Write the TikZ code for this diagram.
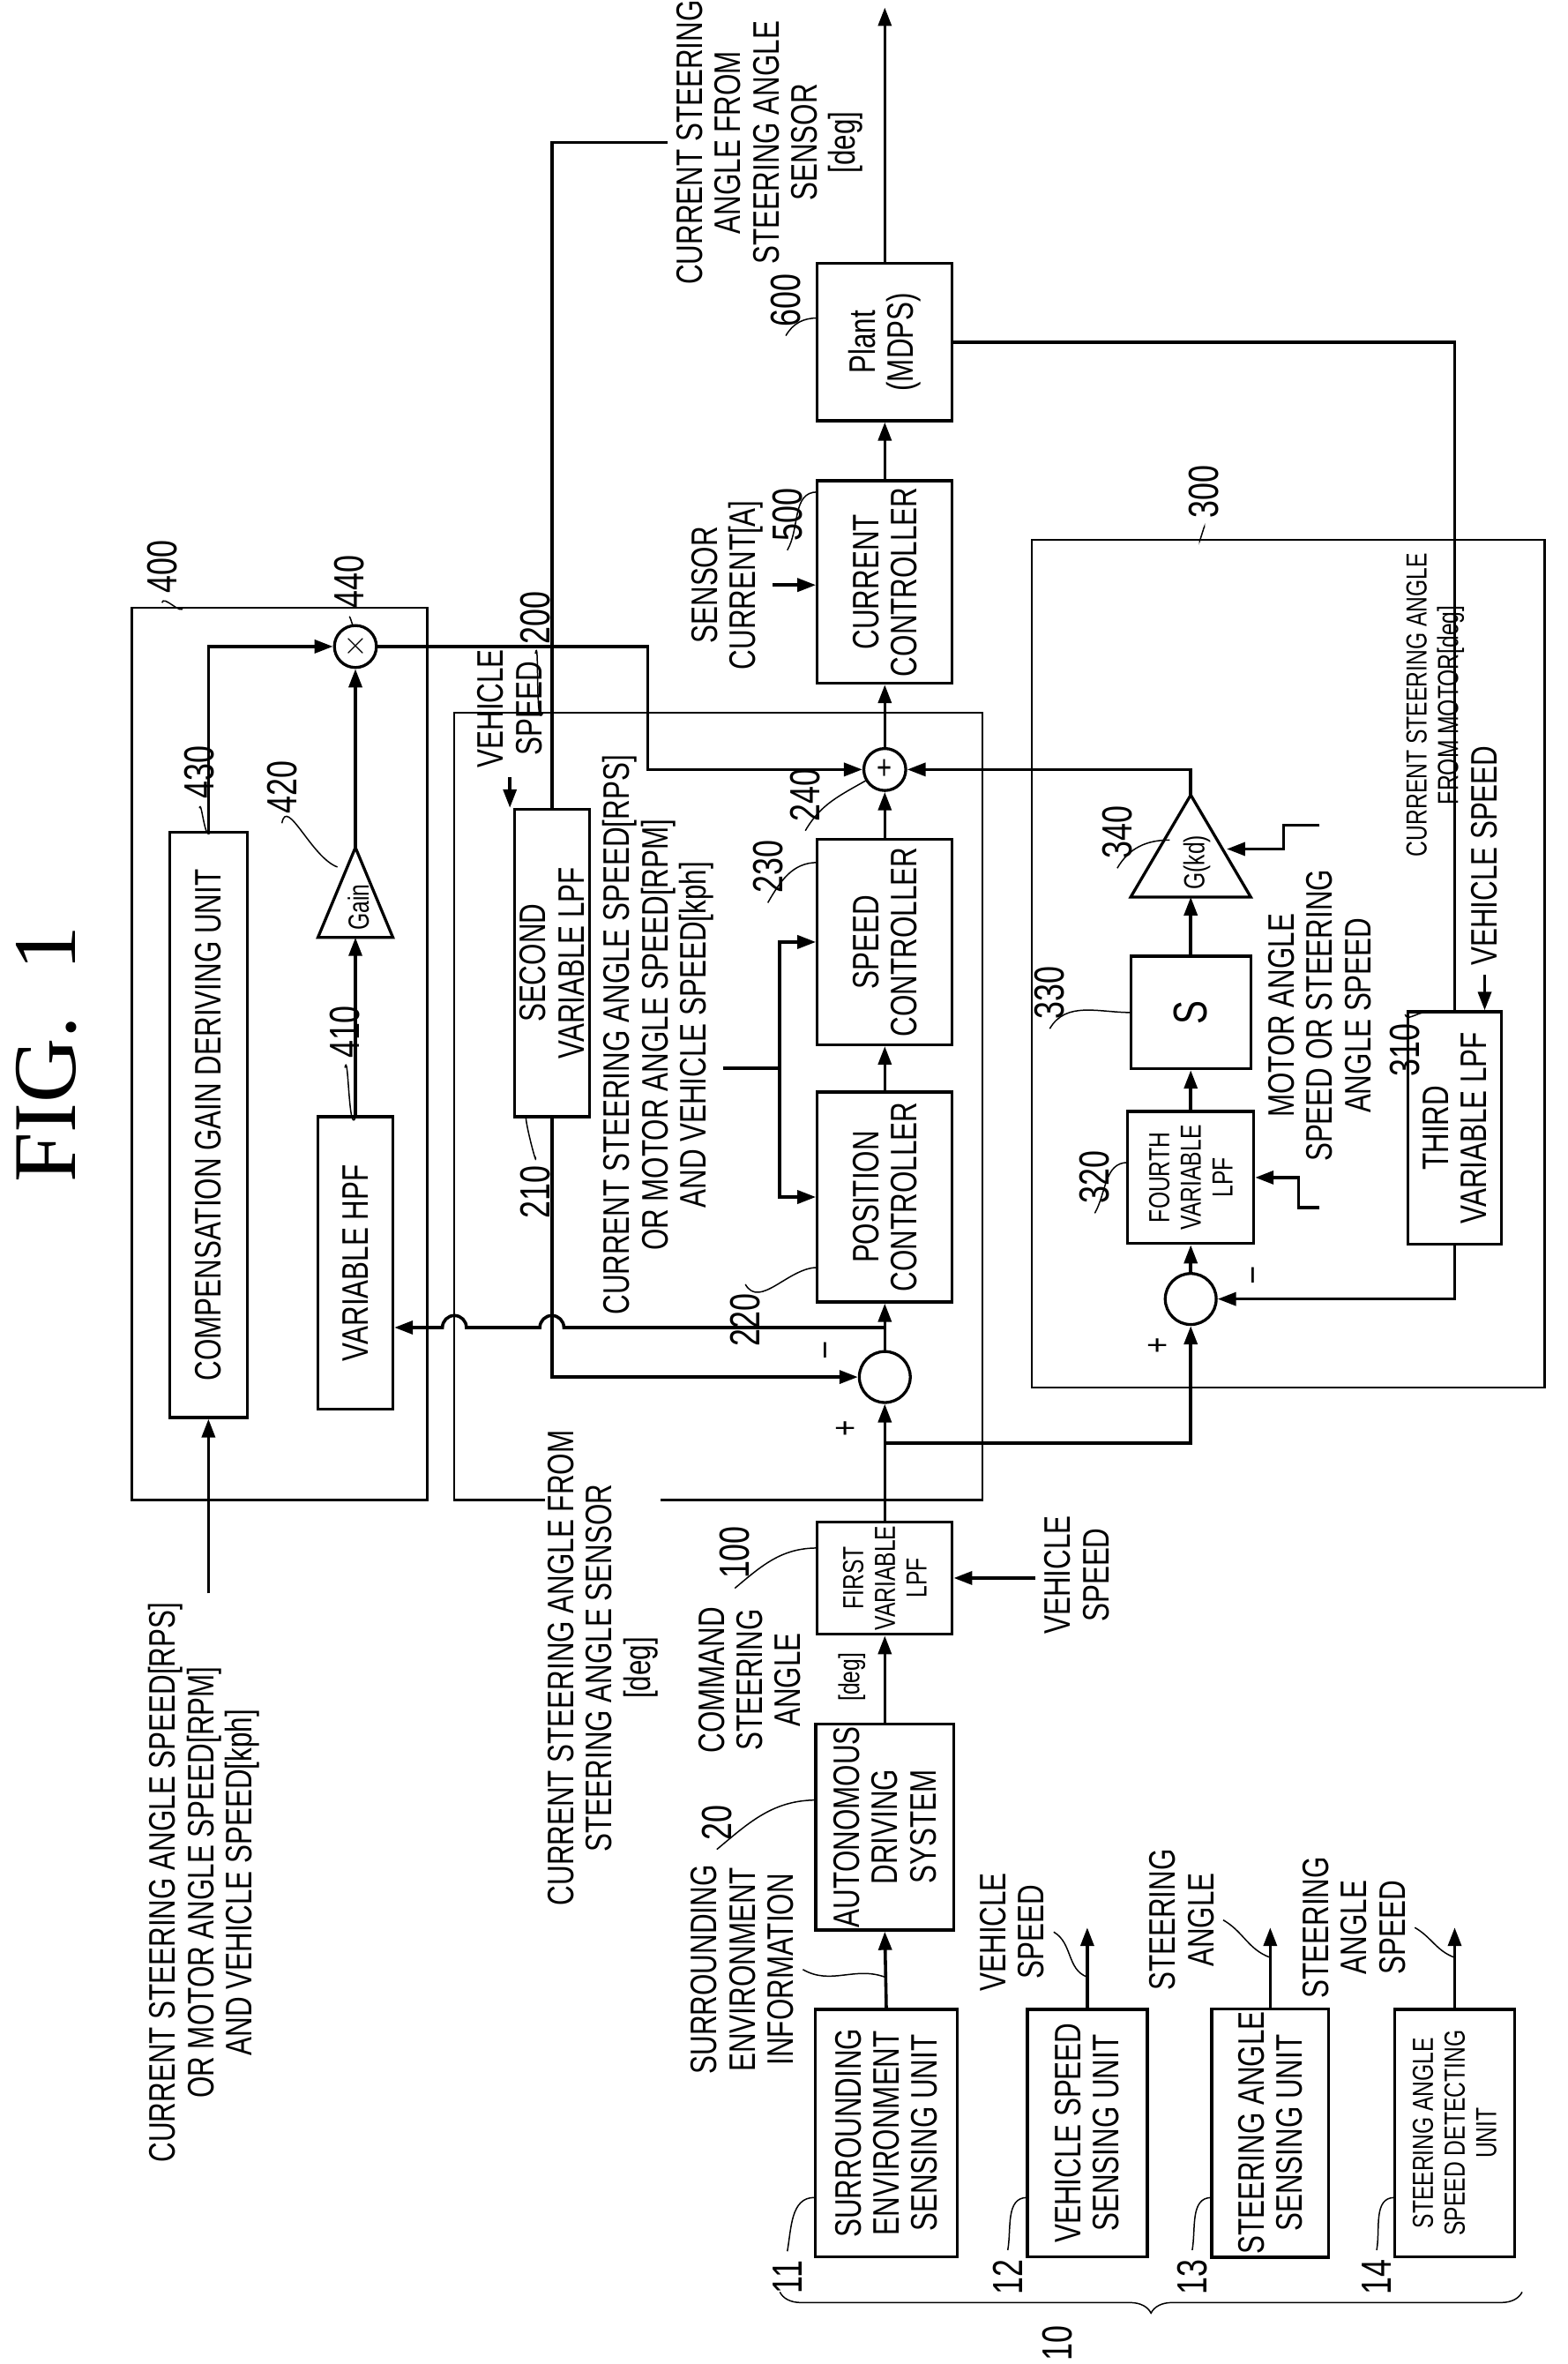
\documentclass[tikz,border=0pt]{standalone}
\usepackage{fontspec}
\setmainfont{Liberation Sans}[FakeStretch=0.75]
\newfontfamily\seriffam{Liberation Serif}
\usetikzlibrary{arrows.meta,decorations.pathreplacing,shapes.geometric}
\tikzset{
 R/.style={rotate=90},
 box/.style={draw,line width=1.1pt,rotate=90,inner sep=1pt},
 sz/.style 2 args={minimum width=#1*0.02cm,minimum height=#2*0.02cm},
 frame/.style={line width=0.8pt},
 ln/.style={line width=1.2pt},
 arr/.style={ln,-{Triangle[length=7pt,width=5pt]}},
 sm/.style={font=\fontsize{11}{12}\selectfont},
 lab/.style={rotate=90,font=\fontsize{16}{17}\selectfont},
 lead/.style={line width=0.5pt},
 circ/.style={draw,circle,line width=1.1pt,inner sep=0pt,minimum size=#1*0.04cm},
}
\begin{document}
\begin{tikzpicture}[x=0.02cm,y=-0.02cm,
 every node/.style={font=\fontsize{14}{14.5}\selectfont, align=center}]
\useasboundingbox (0,0) rectangle (1045,1576);
\node[rotate=90,font=\seriffam\fontsize{34}{34}\selectfont] (title) at (31,703) {FIG.\ \ 1};

% frames
\draw[frame] (88,405) rectangle (285,1000);
\draw[frame] (303,475) rectangle (655,1000);
\draw[frame] (688,360) rectangle (1030,925);

% block 400
\node[box,sz={390}{52}] (b430) at (139,750) {COMPENSATION GAIN DERIVING UNIT};
\node[box,sz={195}{50}] (b410) at (237,842) {VARIABLE HPF};
\coordinate (t420a) at (237,565); \coordinate (t420b) at (237,625);
\draw[line width=1.1pt] (t420a) -- (212,625) -- (262,625) -- cycle;
\node[R,sm] (g420) at (239,605) {Gain};
\node[circ=14,font=\fontsize{12}{12}\selectfont] (c440) at (237,431) {$\times$};

% block 200
\node[box,sz={205}{50}] (b210) at (368,642) {SECOND\\VARIABLE LPF};
\node[R,anchor=west] (vs210) at (340,518) {VEHICLE\\SPEED};
\node[box,sz={140}{90}] (b220) at (590,798) {POSITION\\CONTROLLER};
\node[box,sz={137}{90}] (b230) at (590,628) {SPEED\\CONTROLLER};
\node[circ=14,font=\fontsize{13}{13}\selectfont] (c240) at (590,513) {+};
\node[circ=17] (cm) at (590,918) {};

% 500 / 600
\node[box,sz={135}{90}] (b500) at (590,388) {CURRENT\\CONTROLLER};
\node[box,sz={105}{90}] (b600) at (590,228) {Plant\\(MDPS)};

% block 300
\node[box,sz={155}{62}] (b310) at (970,752) {THIRD\\VARIABLE LPF};
\node[box,sz={88}{84},sm] (b320) at (794,785) {FOURTH\\VARIABLE\\LPF};
\node[box,sz={75}{80},font=\fontsize{18}{18}\selectfont] (b330) at (794,675) {S};
\coordinate (t340a) at (794,530); \coordinate (t340b) at (794,598);
\draw[line width=1.1pt] (t340a) -- (754,598) -- (834,598) -- cycle;
\node[R,sm] (g340) at (798,575) {G(kd)};
\node[circ=17] (c300) at (794,866) {};

% lower blocks
\node[box,sz={75}{90},sm] (b100) at (590,1052) {FIRST\\VARIABLE\\LPF};
\node[box,sz={135}{92}] (b20) at (590,1218) {AUTONOMOUS\\DRIVING\\SYSTEM};
\node[box,sz={165}{95}] (b11) at (591,1422) {SURROUNDING\\ENVIRONMENT\\SENSING UNIT};
\node[box,sz={165}{80}] (b12) at (725,1422) {VEHICLE SPEED\\SENSING UNIT};
\node[box,sz={165}{78}] (b13) at (847,1422) {STEERING ANGLE\\SENSING UNIT};
\node[box,sz={165}{80},sm] (b14) at (970,1422) {STEERING ANGLE\\SPEED DETECTING\\UNIT};
\coordinate (o12) at (725,1285); \coordinate (o13) at (847,1285); \coordinate (o14) at (970,1285);
\coordinate (oTop) at (590,5);

% texts
\node[R,anchor=south] (tin) at (482,690) {CURRENT STEERING ANGLE SPEED[RPS]\\OR MOTOR ANGLE SPEED[RPM]\\AND VEHICLE SPEED[kph]};
\node[R] (tleft) at (136,1255) {CURRENT STEERING ANGLE SPEED[RPS]\\OR MOTOR ANGLE SPEED[RPM]\\AND VEHICLE SPEED[kph]};
\node[R,fill=white,inner sep=1pt] (tsa) at (402,1112) {CURRENT STEERING ANGLE FROM\\STEERING ANGLE SENSOR\\{}[deg]};
\node[R,anchor=north] (tcs) at (445,95) {CURRENT STEERING\\ANGLE FROM\\STEERING ANGLE\\SENSOR\\{}[deg]};
\node[R,anchor=south] (tsc) at (515,390) {SENSOR\\CURRENT[A]};
\node[R] (tmo) at (880,677) {MOTOR ANGLE\\SPEED OR STEERING\\ANGLE SPEED};
\node[R,sm] (tmotor) at (957,470) {CURRENT STEERING ANGLE\\FROM MOTOR[deg]};
\node[R,anchor=west] (vs310) at (990,650) {VEHICLE SPEED};
\node[R] (vs100) at (718,1050) {VEHICLE\\SPEED};
\node[R] (tcmd) at (500,1120) {COMMAND\\STEERING\\ANGLE};
\node[R,sm] (tdeg) at (568,1118) {[deg]};
\node[R] (tsur) at (495,1313) {SURROUNDING\\ENVIRONMENT\\INFORMATION};
\node[R] (t12) at (675,1288) {VEHICLE\\SPEED};
\node[R] (t13) at (788,1280) {STEERING\\ANGLE};
\node[R] (t14) at (903,1285) {STEERING\\ANGLE\\SPEED};

% signs
\node[R] at (553,900) {--};
\node[R] at (565,952) {+};
\node[R] at (773,897) {+};
\node[R] at (838,850) {--};

% connectors
\draw[arr] (b430.east) |- (c440.west);
\draw[arr] (b410.east) -- (t420b);
\draw[arr] (t420a) -- (c440.south);
\coordinate (k1) at (432,431);
\draw[arr] (c440.east) -- (k1) |- (c240.west);
\draw[arr] (b100.east) -- (cm.south);
\draw[arr] (cm.north) -- (b220.west);
\draw[arr] (b220.east) -- (b230.west);
\draw[arr] (b230.east) -- (c240.south);
\draw[arr] (c240.north) -- (b500.west);
\draw[arr] (b500.east) -- (b600.west);
\draw[arr] (b600.east) -- (oTop);
\draw[arr] (b20.east) -- (b100.west);
\draw[arr] (b11.east) -- (b20.west);
\draw[arr] (b12.east) -- (o12);
\draw[arr] (b13.east) -- (o13);
\draw[arr] (b14.east) -- (o14);
\draw[arr] (vs210.west) -- (vs210.west |- b210.east);
\draw[arr] (vs310.west) -- (vs310.west |- b310.east);
\draw[arr] (vs100.north |- b100.south) -- (b100.south);
\draw[arr] (tsc.south) -- (tsc.south -| b500.north);
\draw[arr] (b430.west |- tleft.east) -- (b430.west);
% feedback from steering angle sensor
\coordinate (fb) at (368,95);
\draw[ln] (tcs.north) -- (fb) -- (fb |- b210.east);
\draw[arr] (b210.west) |- (cm.west);
% branches
\coordinate (j1) at (590,962);
\draw[arr] (j1) -| (c300.south);
\coordinate (j2) at (590,885);
\draw[arr] (j2) -- (376,885) arc[start angle=0,end angle=180,radius=0.16cm] -- (311,885) arc[start angle=0,end angle=180,radius=0.16cm] -- (b410.south |- j2);
% controller inputs
\coordinate (bj) at (520,712);
\draw[ln] (tin.south |- bj) -- (bj);
\draw[arr] (bj) |- (b230.north);
\draw[arr] (bj) |- (b220.north);
% block 300 connectors
\draw[ln] (b600.south) -| (b310.east);
\draw[arr] (b310.west) |- (c300.east);
\draw[arr] (c300.north) -- (b320.west);
\draw[arr] (b320.east) -- (b330.west);
\draw[arr] (b330.east) -- (t340b);
\draw[arr] (t340a) |- (c240.east);
\coordinate (m1) at (880,550); \coordinate (m2) at (818,566);
\draw[arr] (m1) -- (856,550) -- (856,566) -- (m2);
\coordinate (m3) at (880,805);
\draw[arr] (m3) -- (866,805) -- (866,785) -- (b320.south);

% reference labels with leaders
\node[lab] (l400) at (108,378) {400}; \draw[lead] (l400.west) to[out=80,in=-100] (122,405);
\node[lab] (l440) at (233,388) {440}; \draw[lead] (l440.west) to[out=80,in=-110] (236,417);
\node[lab] (l430) at (133,515) {430}; \draw[lead] (l430.west) to[out=80,in=-120] (140,555);
\node[lab] (l420) at (188,525) {420}; \draw[lead] (l420.west) to[out=80,in=160] (225,578);
\node[lab] (l410) at (230,688) {410}; \draw[lead] (l410.west) to[out=80,in=-110] (237,745);
\node[lab] (l200) at (357,412) {200}; \draw[lead] (l200.west) to[out=80,in=-110] (362,475);
\node[lab] (l210) at (357,795) {210}; \draw[lead] (l210.east) to[out=-80,in=120] (352,745);
\node[lab] (l220) at (497,880) {220}; \draw[lead] (l220.east) to[out=-60,in=180] (545,845);
\node[lab] (l230) at (512,578) {230}; \draw[lead] (l230.west) to[out=60,in=180] (545,575);
\node[lab] (l240) at (537,530) {240}; \draw[lead] (l240.west) to[out=60,in=-150] (578,520);
\node[lab] (l300) at (803,328) {300}; \draw[lead] (l300.west) to[out=80,in=-100] (800,360);
\node[lab] (l310) at (937,700) {310}; \draw[lead] (l310.east) to[out=-80,in=180] (950,675);
\node[lab] (l320) at (730,785) {320}; \draw[lead] (l320.west) to[out=60,in=180] (752,775);
\node[lab] (l330) at (700,662) {330}; \draw[lead] (l330.west) to[out=60,in=180] (754,675);
\node[lab] (l340) at (745,555) {340}; \draw[lead] (l340.west) to[out=60,in=180] (780,560);
\node[lab] (l500) at (525,343) {500}; \draw[lead] (l500.west) to[out=60,in=180] (545,328);
\node[lab] (l600) at (524,200) {600}; \draw[lead] (l600.west) to[out=60,in=180] (545,212);
\node[lab] (l100) at (490,1035) {100}; \draw[lead] (l100.west) to[out=40,in=180] (545,1032);
\node[lab] (l20) at (478,1215) {20}; \draw[lead] (l20.west) to[out=40,in=180] (545,1200);
\node[lab] (l11) at (525,1518) {11}; \draw[lead] (l11.east) to[out=80,in=180] (543,1465);
\node[lab] (l12) at (672,1518) {12}; \draw[lead] (l12.east) to[out=80,in=180] (685,1465);
\node[lab] (l13) at (795,1518) {13}; \draw[lead] (l13.east) to[out=80,in=180] (808,1465);
\node[lab] (l14) at (918,1518) {14}; \draw[lead] (l14.east) to[out=80,in=180] (930,1465);
\draw[lead] (tsur.south) to[out=-30,in=160] (590,1318);
\draw[lead] (t12.south) to[out=-30,in=160] (725,1318);
\draw[lead] (t13.south) to[out=-30,in=160] (847,1305);
\draw[lead] (t14.south) to[out=-30,in=160] (970,1305);
% brace 10
\draw[lead,decorate,decoration={brace,amplitude=8pt}] (1015,1528) -- (520,1528);
\node[lab] (l10) at (705,1562) {10};
\end{tikzpicture}
\end{document}
